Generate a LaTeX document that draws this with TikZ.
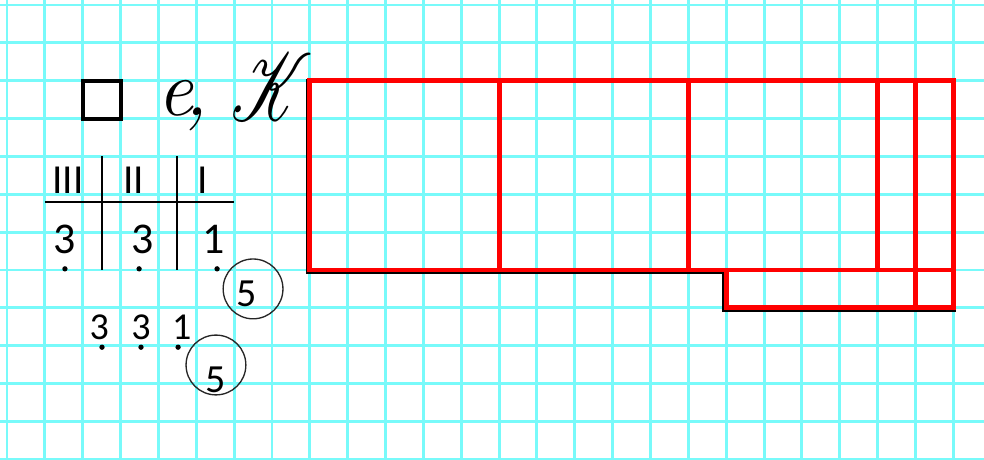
\documentclass[tikz,border=0pt]{standalone}
\usepackage{fontspec}
\usepackage{mathrsfs}
\newfontfamily\calibri{Carlito}
\definecolor{gridcyan}{RGB}{120,250,250}

\begin{document}
\begin{tikzpicture}[x=0.5cm, y=0.5cm,
    gridline/.style={draw=gridcyan, line width=1.1pt},
    redbox/.style={draw=red, line width=1.8pt},
    tableline/.style={draw=black, line width=0.8pt},
    numeral/.style={font=\calibri\fontsize{15.5}{17}\selectfont, inner sep=0pt},
    bigdigit/.style={font=\calibri\fontsize{16.5}{18}\selectfont, inner sep=0pt},
    smalldigit/.style={font=\calibri\fontsize{14.3}{16}\selectfont, inner sep=0pt},
    dot/.style={circle, fill=black, inner sep=0pt, minimum size=2pt},
    ring/.style={circle, draw=black!85, line width=0.5pt, minimum size=0.79cm, inner sep=0pt}]
  \useasboundingbox[fill=white] (-0.185,0.132) rectangle (25.81,-11.995);
  % squared paper
  \foreach \i in {0,...,25}
    \draw[gridline] (\i,0.3) -- (\i,-12.2);
  \foreach \j in {0,...,12}
    \draw[gridline] (-0.3,-\j) -- (25.9,-\j);

  % heading
  \node (box) [draw, line width=1.5pt, minimum size=0.5cm, inner sep=0pt] at (2.5,-2.5) {};
  \node (letter) [anchor=base west, inner sep=0pt, font=\fontsize{30}{34}\selectfont\itshape] at (3.95,-2.93) {e\kern-3pt,};
  \node (cap) [anchor=base, inner sep=0pt, xscale=1.0, yscale=1.45, font=\fontsize{24.88}{28}\selectfont] at (7.0,-3.06) {$\mathscr{K}$};

  % place value table
  \draw[tableline] (2.5,-4) -- (2.5,-7);
  \draw[tableline] (4.5,-4) -- (4.5,-7);
  \draw[tableline] (1,-5.2) -- (6,-5.2);
  \node (hund) [numeral] at (1.61,-4.64) {III};
  \node (tens) [numeral] at (3.34,-4.64) {II};
  \node (ones) [numeral] at (5.17,-4.64) {I};
  \node (a3) [bigdigit] at (1.51,-6.18) {3};
  \node (b3) [bigdigit] at (3.59,-6.18) {3};
  \node (c1) [bigdigit] at (5.47,-6.18) {1};
  \node (da) [dot] at (1.53,-6.97) {};
  \node (db) [dot] at (3.49,-6.97) {};
  \node (dc) [dot] at (5.55,-6.97) {};
  \node (ringa) [ring] at (6.5,-7.5) {};
  \node (fivea) [smalldigit, font=\calibri\fontsize{15}{17}\selectfont] at (6.34,-7.62) {5};

  % written in a row
  \node (x3) [smalldigit] at (2.44,-8.51) {3};
  \node (y3) [smalldigit] at (3.54,-8.51) {3};
  \node (z1) [smalldigit] at (4.62,-8.51) {1};
  \node (dx) [dot] at (2.51,-9.04) {};
  \node (dy) [dot] at (3.54,-9.04) {};
  \node (dz) [dot] at (4.52,-9.04) {};
  \node (ringb) [ring] at (5.52,-9.51) {};
  \node (fiveb) [smalldigit, font=\calibri\fontsize{15}{17}\selectfont] at (5.5,-9.89) {5};

  % strips
  \draw[black, line width=1.1pt] (7.93,-1.99) -- (25.04,-1.99) -- (25.04,-8.07)
    -- (18.93,-8.07) -- (18.93,-7.07) -- (7.93,-7.07) -- cycle;
  \draw[redbox] (8,-2) rectangle (25,-7);
  \draw[redbox] (19,-7) rectangle (25,-8);
  \draw[redbox] (13,-2) -- (13,-7);
  \draw[redbox] (18,-2) -- (18,-7);
  \draw[redbox] (23,-2) -- (23,-7);
  \draw[redbox] (24,-2) -- (24,-8);
\end{tikzpicture}
\end{document}
